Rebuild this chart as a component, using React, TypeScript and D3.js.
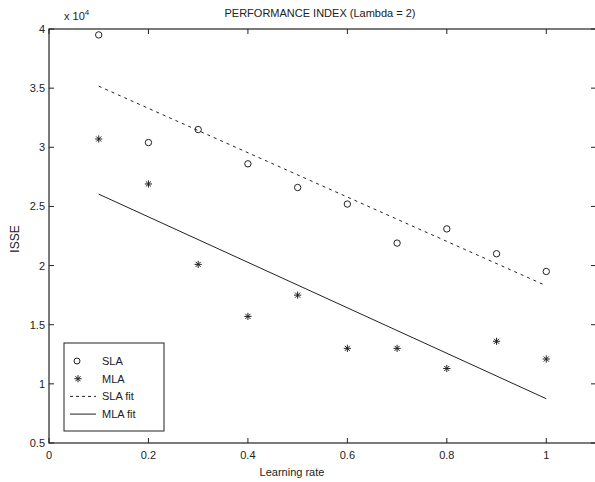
import { useEffect, useRef } from 'react';
import * as d3 from 'd3';

const rates = [0.1, 0.2, 0.3, 0.4, 0.5, 0.6, 0.7, 0.8, 0.9, 1.0];
const slaValues = [3.95, 3.04, 3.15, 2.86, 2.66, 2.52, 2.19, 2.31, 2.10, 1.95];
const mlaValues = [3.07, 2.69, 2.01, 1.57, 1.75, 1.30, 1.30, 1.13, 1.36, 1.21];
const xTicks = [0, 0.2, 0.4, 0.6, 0.8, 1];
const yTicks = [0.5, 1, 1.5, 2, 2.5, 3, 3.5, 4];
const legendItems = ['SLA', 'MLA', 'SLA fit', 'MLA fit'];

// least squares line through the points
function fit(xs: number[], ys: number[]) {
  const mx = d3.mean(xs)!, my = d3.mean(ys)!;
  let num = 0, den = 0;
  xs.forEach((x, i) => { num += (x - mx) * (ys[i] - my); den += (x - mx) ** 2; });
  const b = num / den;
  const a = my - b * mx;
  return (x: number) => a + b * x;
}

function starPath(cx: number, cy: number, r: number) {
  const p: string[] = [];
  for (let k = 0; k < 4; k++) {
    const ang = (k * Math.PI) / 4;
    const dx = Math.cos(ang) * r, dy = Math.sin(ang) * r;
    p.push(`M${cx - dx},${cy - dy}L${cx + dx},${cy + dy}`);
  }
  return p.join('');
}

export default function App() {
  const ref = useRef<SVGSVGElement>(null);

  useEffect(() => {
    const svg = d3.select(ref.current);
    svg.selectAll('*').remove();

    const left = 49, right = 596, top = 29, bottom = 443;
    const x = d3.scaleLinear().domain([0, 1.1]).range([left, right]);
    const y = d3.scaleLinear().domain([0.5, 4]).range([bottom, top]);
    const font = 'Liberation Sans, Arial, sans-serif';
    const ink = '#222';

    svg.append('rect').attr('x', 0).attr('y', 0).attr('width', 595).attr('height', 482).attr('fill', '#fff');

    // frame
    svg.append('rect').attr('x', left).attr('y', top).attr('width', right - left).attr('height', bottom - top)
      .attr('fill', 'none').attr('stroke', ink).attr('stroke-width', 1.2);

    // inner ticks
    xTicks.forEach(t => {
      svg.append('line').attr('x1', x(t)).attr('x2', x(t)).attr('y1', bottom).attr('y2', bottom - 5).attr('stroke', ink);
      svg.append('line').attr('x1', x(t)).attr('x2', x(t)).attr('y1', top).attr('y2', top + 5).attr('stroke', ink);
      svg.append('text').attr('x', x(t)).attr('y', bottom + 16).attr('text-anchor', 'middle')
        .style('font-family', font).style('font-size', '11px').attr('fill', ink).text(String(t));
    });
    yTicks.forEach(t => {
      svg.append('line').attr('x1', left).attr('x2', left + 5).attr('y1', y(t)).attr('y2', y(t)).attr('stroke', ink);
      svg.append('line').attr('x1', right - 5).attr('x2', right).attr('y1', y(t)).attr('y2', y(t)).attr('stroke', ink);
      svg.append('text').attr('x', left - 4).attr('y', y(t) + 4).attr('text-anchor', 'end')
        .style('font-family', font).style('font-size', '11px').attr('fill', ink).text(String(t));
    });

    // exponent
    const ex = svg.append('text').attr('x', 64).attr('y', 20)
      .style('font-family', font).style('font-size', '11px').attr('fill', ink);
    ex.append('tspan').text('x 10');
    ex.append('tspan').attr('dy', -5).style('font-size', '8px').text('4');

    svg.append('text').attr('x', 320).attr('y', 17).attr('text-anchor', 'middle')
      .style('font-family', font).style('font-size', '11px').attr('fill', ink)
      .text('PERFORMANCE INDEX (Lambda = 2)');
    svg.append('text').attr('x', 292).attr('y', 476).attr('text-anchor', 'middle')
      .style('font-family', font).style('font-size', '11px').attr('fill', ink).text('Learning rate');
    svg.append('text').attr('transform', `translate(19,${(top + bottom) / 2 + 3}) rotate(-90)`).attr('text-anchor', 'middle')
      .style('font-family', font).style('font-size', '12px').attr('fill', ink).text('ISSE');

    // fit lines
    const slaFit = fit(rates, slaValues);
    const mlaFit = fit(rates, mlaValues);
    const x0 = rates[0], x1 = rates[rates.length - 1];
    svg.append('line').attr('x1', x(x0)).attr('y1', y(slaFit(x0))).attr('x2', x(x1)).attr('y2', y(slaFit(x1)))
      .attr('stroke', ink).attr('stroke-width', 1).attr('stroke-dasharray', '3,4');
    svg.append('line').attr('x1', x(x0)).attr('y1', y(mlaFit(x0))).attr('x2', x(x1)).attr('y2', y(mlaFit(x1)))
      .attr('stroke', ink).attr('stroke-width', 1);

    // markers
    rates.forEach((r, i) => {
      svg.append('circle').attr('cx', x(r)).attr('cy', y(slaValues[i])).attr('r', 3.2)
        .attr('fill', 'none').attr('stroke', ink).attr('stroke-width', 1);
      svg.append('path').attr('d', starPath(x(r), y(mlaValues[i]), 3.6))
        .attr('stroke', ink).attr('stroke-width', 1);
    });

    // legend
    const lg = svg.append('g');
    lg.append('rect').attr('x', 64).attr('y', 343).attr('width', 100).attr('height', 88)
      .attr('fill', '#fff').attr('stroke', ink).attr('stroke-width', 1);
    legendItems.forEach((name, i) => {
      const ly = 361 + i * 17.7;
      if (i === 0) lg.append('circle').attr('cx', 77).attr('cy', ly).attr('r', 3).attr('fill', 'none').attr('stroke', ink);
      if (i === 1) lg.append('path').attr('d', starPath(78, ly, 3.6)).attr('stroke', ink);
      if (i === 2) lg.append('line').attr('x1', 70).attr('x2', 96).attr('y1', ly).attr('y2', ly)
        .attr('stroke', ink).attr('stroke-dasharray', '3,3');
      if (i === 3) lg.append('line').attr('x1', 70).attr('x2', 96).attr('y1', ly).attr('y2', ly).attr('stroke', ink);
      lg.append('text').attr('x', 102).attr('y', ly + 4)
        .style('font-family', font).style('font-size', '11px').attr('fill', ink).text(name);
    });
  }, []);

  return (
    <svg ref={ref} width={595} height={482}
      style={{ position: 'absolute', left: 0, top: 0, display: 'block' }} />
  );
}
